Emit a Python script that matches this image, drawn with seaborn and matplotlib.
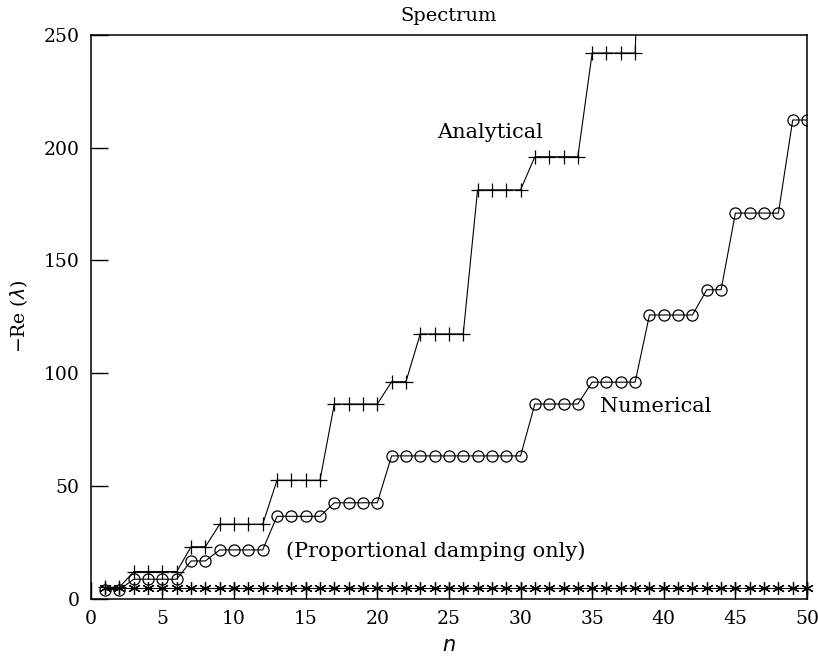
import numpy as np
import pandas as pd
import matplotlib
matplotlib.use("Agg")
import matplotlib.pyplot as plt
import seaborn as sns

# values
n_vals = list(range(1, 51))

analytical = [5, 5, 12, 12, 12, 12, 23, 23, 33, 33,
              33, 33, 52.5, 52.5, 52.5, 52.5, 86.3, 86.3, 86.3, 86.3,
              96.2, 96.2, 117.4, 117.4, 117.4, 117.4, 181.3, 181.3, 181.3, 181.3,
              196, 196, 196, 196, 242, 242, 242, 242, 420]
numerical = [4, 4, 8.6, 8.6, 8.6, 8.6, 16.7, 16.7, 21.6, 21.6,
             21.6, 21.6, 36.5, 36.5, 36.5, 36.5, 42.5, 42.5, 42.5, 42.5,
             63.3, 63.3, 63.3, 63.3, 63.3, 63.3, 63.3, 63.3, 63.3, 63.3,
             86.3, 86.3, 86.3, 86.3, 96, 96, 96, 96, 125.8, 125.8,
             125.8, 125.8, 137, 137, 171, 171, 171, 171, 212.3, 212.3]
proportional = [4.6] * 50

sns.set_style("ticks")
plt.rcParams['font.family'] = ['DejaVu Serif']
plt.rcParams['text.color'] = 'black'
plt.rcParams['axes.labelcolor'] = 'black'
plt.rcParams['xtick.color'] = 'black'
plt.rcParams['ytick.color'] = 'black'

df_a = pd.DataFrame({'n': n_vals[:len(analytical)], 'val': analytical})
df_n = pd.DataFrame({'n': n_vals, 'val': numerical})
df_p = pd.DataFrame({'n': n_vals, 'val': proportional})

fig = plt.figure(figsize=(8.18, 6.64), dpi=100)
ax = fig.add_axes([0.111, 0.0985, 0.8756, 0.8488])

sns.lineplot(data=df_p, x='n', y='val', ax=ax, color='black', lw=0.8,
             marker=(6, 2, 0), markersize=9, mec='black', mew=0.9,
             estimator=None, sort=False, clip_on=False)
sns.lineplot(data=df_n, x='n', y='val', ax=ax, color='black', lw=0.8,
             marker='o', markersize=8, mfc='none', mec='black', mew=0.9,
             estimator=None, sort=False)
sns.lineplot(data=df_a, x='n', y='val', ax=ax, color='black', lw=0.8,
             marker='+', markersize=9.5, mec='black', mew=0.9,
             estimator=None, sort=False)

ax.set_xlim(0, 50)
ax.set_ylim(0, 250)
ax.set_xticks(range(0, 51, 5))
ax.set_yticks(range(0, 251, 50))
ax.tick_params(direction='in', length=12.5, width=1, labelsize=13.5,
               top=False, right=False, pad=8)
for s in ax.spines.values():
    s.set_visible(True)
    s.set_linewidth(1.1)
    s.set_color('black')

ax.set_xlabel(r'$n$', fontsize=15, labelpad=6)
ax.set_ylabel(r'$-$Re ($\lambda$)', fontsize=13.5, labelpad=10)
ax.set_title('Spectrum', fontsize=14, pad=10)

ax.text(27.9, 206.6, 'Analytical', fontsize=15, ha='center', va='center')
ax.text(39.4, 85, 'Numerical', fontsize=15, ha='center', va='center')
ax.text(24.1, 21.1, '(Proportional damping only)', fontsize=15,
        ha='center', va='center')

fig.savefig('out.png', dpi=100)
